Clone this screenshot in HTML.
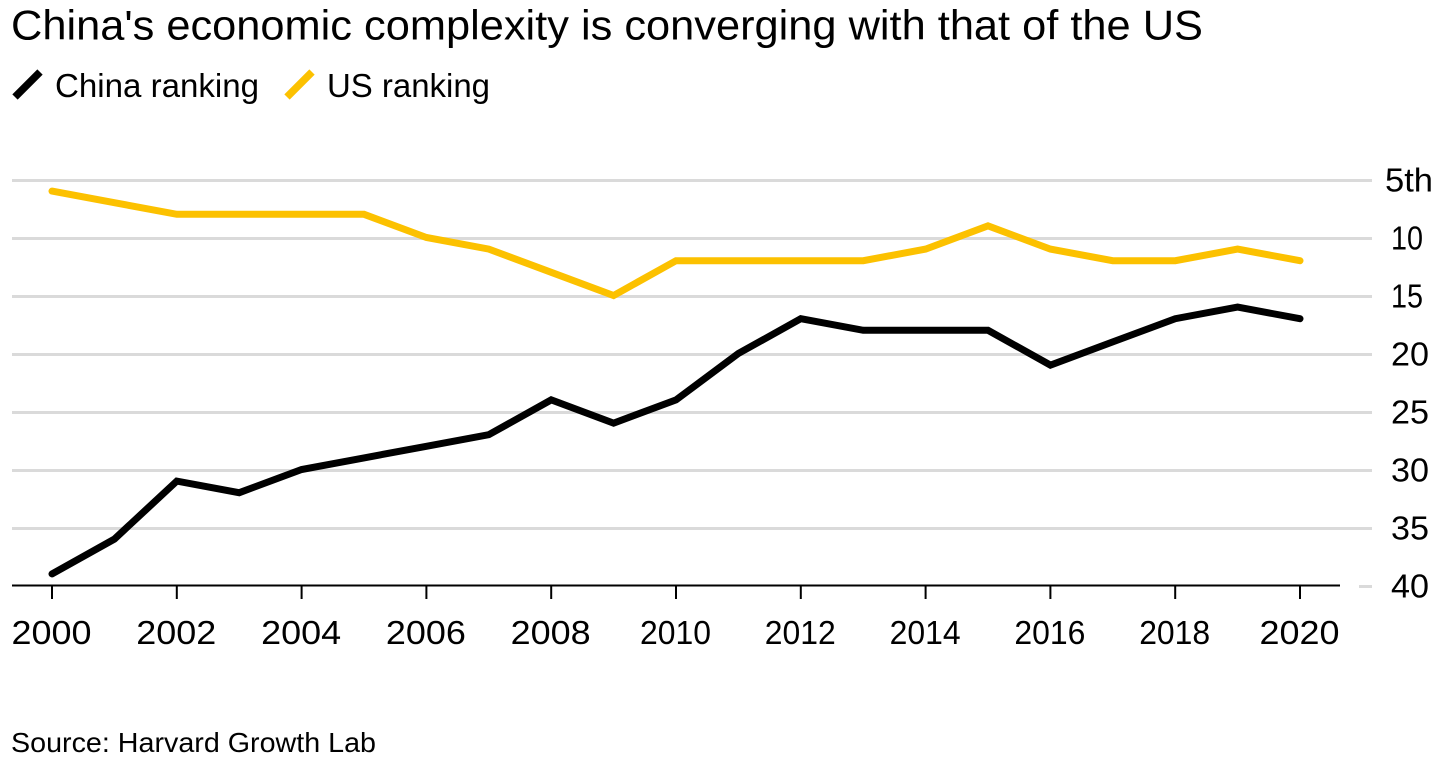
<!DOCTYPE html>
<html lang="en">
<head>
<meta charset="utf-8">
<title>China's economic complexity is converging with that of the US</title>
<style>
html,body{margin:0;padding:0;background:#fff;width:1456px;height:761px;overflow:hidden}
svg{display:block;font-family:"Liberation Sans",Arial,sans-serif;fill:#000}
</style>
</head>
<body>
<svg id="chart" width="1456" height="761" viewBox="0 0 1456 761" xmlns="http://www.w3.org/2000/svg">
  <rect x="0" y="0" width="1456" height="761" fill="#fff"/>
  <text x="11" y="39.5" font-size="42" textLength="1192" lengthAdjust="spacingAndGlyphs">China's economic complexity is converging with that of the US</text>
  <g>
    <g>
      <line x1="15" y1="97" x2="40" y2="72" stroke="#000" stroke-width="7.5"/>
      <text x="55" y="97" font-size="33" textLength="204" lengthAdjust="spacingAndGlyphs">China ranking</text>
    </g>
    <g>
      <line x1="287" y1="97" x2="312" y2="72" stroke="#fcc100" stroke-width="7.5"/>
      <text x="327" y="97" font-size="33" textLength="163" lengthAdjust="spacingAndGlyphs">US ranking</text>
    </g>
  </g>
  <g id="grid"></g>
  <g id="yLabels"></g>
  <g id="xAxis"></g>
  <g id="series"></g>
  <text x="11" y="752" font-size="28" textLength="365" lengthAdjust="spacingAndGlyphs">Source: Harvard Growth Lab</text>
</svg>
<script>
var years = [2000,2001,2002,2003,2004,2005,2006,2007,2008,2009,2010,2011,2012,2013,2014,2015,2016,2017,2018,2019,2020];
var chinaRanking = [39,36,31,32,30,29,28,27,24,26,24,20,17,18,18,18,21,19,17,16,17];
var usRanking = [6,7,8,8,8,8,10,11,13,15,12,12,12,12,11,9,11,12,12,11,12];
var yTicks = [5,10,15,20,25,30,35,40];
var yTickLabels = ['5th','10','15','20','25','30','35','40'];
var xTicks = [2000,2002,2004,2006,2008,2010,2012,2014,2016,2018,2020];

var NS = 'http://www.w3.org/2000/svg';
function xScale(year) { return 52 + (year - 2000) * (1300 - 52) / 20; }
function yScale(rank) { return 180.5 + (rank - 5) * (586.5 - 180.5) / 35; }
function make(tag, parent, attrs) {
  var el = document.createElementNS(NS, tag);
  for (var k in attrs) el.setAttribute(k, attrs[k]);
  parent.appendChild(el);
  return el;
}
/* The reference face has a narrow "1", so labels containing one are set narrower. */
function yLabelWidth(text) { return text.indexOf('th') >= 0 ? 48 : (text.indexOf('1') >= 0 ? 32 : 38); }
function xLabelWidth(text) { return text.indexOf('1') >= 0 ? 71 : 80; }

var grid = document.getElementById('grid');
var yLabels = document.getElementById('yLabels');
yTicks.forEach(function (t, i) {
  var isBottom = i === yTicks.length - 1;
  var line = make('line', grid, {
    x1: isBottom ? 1359 : 12, x2: 1372, y1: yScale(t), y2: yScale(t),
    stroke: '#dadada', 'stroke-width': 3
  });
  
  
  var label = make('text', yLabels, {
    x: i === 0 ? 1385 : 1391, y: yScale(t) + 11, 'font-size': 33,
    textLength: yLabelWidth(yTickLabels[i]), lengthAdjust: 'spacingAndGlyphs'
  });
  
  
  label.textContent = yTickLabels[i];
});

var xAxis = document.getElementById('xAxis');
var axisLine = make('line', xAxis, { x1: 12, x2: 1340, y1: 585.5, y2: 585.5, stroke: '#000', 'stroke-width': 2 });


xTicks.forEach(function (yr) {
  var tick = make('line', xAxis, { x1: xScale(yr), x2: xScale(yr), y1: 585, y2: 599, stroke: '#000', 'stroke-width': 2 });
  
  
  var label = make('text', xAxis, {
    x: xScale(yr) - 0.5, y: 644, 'font-size': 33, 'text-anchor': 'middle',
    textLength: xLabelWidth(String(yr)), lengthAdjust: 'spacingAndGlyphs'
  });
  
  
  label.textContent = yr;
});

function linePoints(values) {
  return values.map(function (v, i) { return xScale(years[i]) + ',' + (yScale(v) - 1); }).join(' ');
}
var series = document.getElementById('series');
var usLine = make('polyline', series, {
  points: linePoints(usRanking), fill: 'none', stroke: '#fcc100', 'stroke-width': 7,
  'stroke-linejoin': 'miter', 'stroke-linecap': 'round'
});


var chinaLine = make('polyline', series, {
  points: linePoints(chinaRanking), fill: 'none', stroke: '#000', 'stroke-width': 7,
  'stroke-linejoin': 'miter', 'stroke-linecap': 'round'
});


</script>
</body>
</html>
